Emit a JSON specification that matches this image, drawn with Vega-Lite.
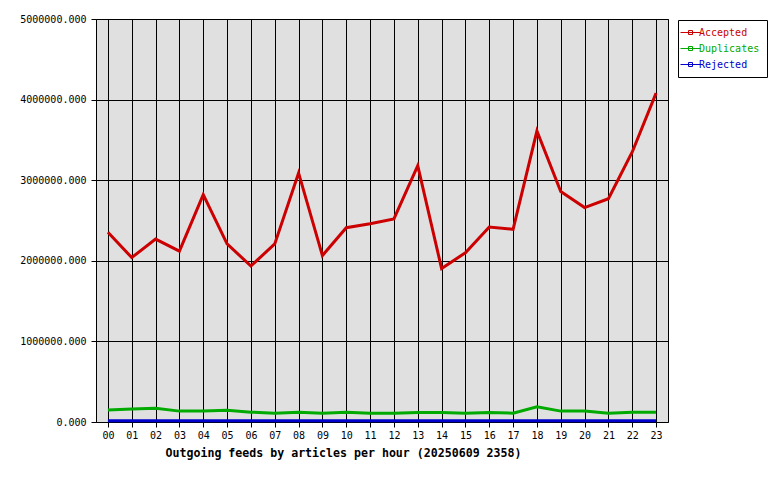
{
  "$schema": "https://vega.github.io/schema/vega-lite/v6.json",
  "description": "Outgoing feeds by articles per hour",
  "autosize": {"type": "none"},
  "padding": {"top": 19, "left": 96, "right": 112, "bottom": 58},
  "width": 572,
  "height": 403,
  "background": "#ffffff",
  "data": {
    "values": [
      {"hour": "00", "series": "Accepted", "value": 2354000},
      {"hour": "01", "series": "Accepted", "value": 2040000},
      {"hour": "02", "series": "Accepted", "value": 2270000},
      {"hour": "03", "series": "Accepted", "value": 2120000},
      {"hour": "04", "series": "Accepted", "value": 2820000},
      {"hour": "05", "series": "Accepted", "value": 2210000},
      {"hour": "06", "series": "Accepted", "value": 1935000},
      {"hour": "07", "series": "Accepted", "value": 2210000},
      {"hour": "08", "series": "Accepted", "value": 3090000},
      {"hour": "09", "series": "Accepted", "value": 2065000},
      {"hour": "10", "series": "Accepted", "value": 2410000},
      {"hour": "11", "series": "Accepted", "value": 2460000},
      {"hour": "12", "series": "Accepted", "value": 2520000},
      {"hour": "13", "series": "Accepted", "value": 3180000},
      {"hour": "14", "series": "Accepted", "value": 1905000},
      {"hour": "15", "series": "Accepted", "value": 2100000},
      {"hour": "16", "series": "Accepted", "value": 2420000},
      {"hour": "17", "series": "Accepted", "value": 2390000},
      {"hour": "18", "series": "Accepted", "value": 3610000},
      {"hour": "19", "series": "Accepted", "value": 2860000},
      {"hour": "20", "series": "Accepted", "value": 2660000},
      {"hour": "21", "series": "Accepted", "value": 2770000},
      {"hour": "22", "series": "Accepted", "value": 3350000},
      {"hour": "23", "series": "Accepted", "value": 4080000},
      {"hour": "00", "series": "Duplicates", "value": 148000},
      {"hour": "01", "series": "Duplicates", "value": 160000},
      {"hour": "02", "series": "Duplicates", "value": 170000},
      {"hour": "03", "series": "Duplicates", "value": 135000},
      {"hour": "04", "series": "Duplicates", "value": 135000},
      {"hour": "05", "series": "Duplicates", "value": 145000},
      {"hour": "06", "series": "Duplicates", "value": 122000},
      {"hour": "07", "series": "Duplicates", "value": 110000},
      {"hour": "08", "series": "Duplicates", "value": 120000},
      {"hour": "09", "series": "Duplicates", "value": 110000},
      {"hour": "10", "series": "Duplicates", "value": 120000},
      {"hour": "11", "series": "Duplicates", "value": 110000},
      {"hour": "12", "series": "Duplicates", "value": 110000},
      {"hour": "13", "series": "Duplicates", "value": 118000},
      {"hour": "14", "series": "Duplicates", "value": 118000},
      {"hour": "15", "series": "Duplicates", "value": 110000},
      {"hour": "16", "series": "Duplicates", "value": 118000},
      {"hour": "17", "series": "Duplicates", "value": 110000},
      {"hour": "18", "series": "Duplicates", "value": 190000},
      {"hour": "19", "series": "Duplicates", "value": 135000},
      {"hour": "20", "series": "Duplicates", "value": 135000},
      {"hour": "21", "series": "Duplicates", "value": 110000},
      {"hour": "22", "series": "Duplicates", "value": 120000},
      {"hour": "23", "series": "Duplicates", "value": 120000},
      {"hour": "00", "series": "Rejected", "value": 16000},
      {"hour": "01", "series": "Rejected", "value": 16000},
      {"hour": "02", "series": "Rejected", "value": 17000},
      {"hour": "03", "series": "Rejected", "value": 15000},
      {"hour": "04", "series": "Rejected", "value": 15000},
      {"hour": "05", "series": "Rejected", "value": 15000},
      {"hour": "06", "series": "Rejected", "value": 14000},
      {"hour": "07", "series": "Rejected", "value": 14000},
      {"hour": "08", "series": "Rejected", "value": 15000},
      {"hour": "09", "series": "Rejected", "value": 14000},
      {"hour": "10", "series": "Rejected", "value": 15000},
      {"hour": "11", "series": "Rejected", "value": 14000},
      {"hour": "12", "series": "Rejected", "value": 14000},
      {"hour": "13", "series": "Rejected", "value": 15000},
      {"hour": "14", "series": "Rejected", "value": 14000},
      {"hour": "15", "series": "Rejected", "value": 14000},
      {"hour": "16", "series": "Rejected", "value": 15000},
      {"hour": "17", "series": "Rejected", "value": 14000},
      {"hour": "18", "series": "Rejected", "value": 17000},
      {"hour": "19", "series": "Rejected", "value": 15000},
      {"hour": "20", "series": "Rejected", "value": 15000},
      {"hour": "21", "series": "Rejected", "value": 14000},
      {"hour": "22", "series": "Rejected", "value": 15000},
      {"hour": "23", "series": "Rejected", "value": 15000}
    ]
  },
  "mark": {"type": "line", "strokeWidth": 3, "interpolate": "linear"},
  "encoding": {
    "x": {
      "field": "hour",
      "type": "ordinal",
      "sort": null,
      "scale": {"type": "point", "padding": 0.5},
      "axis": {
        "title": "Outgoing feeds by articles per hour (20250609 2358)",
        "titleX": 247,
        "titleY": 34,
        "titleBaseline": "alphabetic",
        "titleAlign": "center",
        "titleFontWeight": "bold",
        "titleFontSize": 11.6,
        "labelAngle": 0,
        "labelPadding": 3,
        "tickSize": 5,
        "grid": true,
        "domain": false
      }
    },
    "y": {
      "field": "value",
      "type": "quantitative",
      "scale": {"domain": [0, 5000000], "nice": false},
      "axis": {
        "title": null,
        "values": [0, 1000000, 2000000, 3000000, 4000000, 5000000],
        "format": ".3f",
        "tickSize": 5,
        "labelPadding": 5,
        "grid": true,
        "domain": false
      }
    },
    "color": {
      "field": "series",
      "type": "nominal",
      "scale": {
        "domain": ["Accepted", "Duplicates", "Rejected"],
        "range": ["#cc0000", "#00aa00", "#0000cc"]
      },
      "legend": {
        "title": null,
        "orient": "none",
        "legendX": 582,
        "legendY": 1,
        "padding": 7,
        "strokeColor": "#000000",
        "fillColor": "#ffffff",
        "cornerRadius": 0,
        "symbolType": "M-2,0H2M-0.4,-0.4V0.4H0.4V-0.4Z",
        "symbolSize": 100,
        "symbolStrokeWidth": 1,
        "labelOffset": 3,
        "rowPadding": 5,
        "encode": {
          "symbols": {"update": {"stroke": {"signal": "scale('color', datum.value)"}, "fill": {"value": "transparent"}}},
          "labels": {"update": {"fill": {"signal": "scale('color', datum.value)"}}}
        }
      }
    }
  },
  "config": {
    "font": "DejaVu Sans Mono",
    "view": {"fill": "#e0e0e0", "stroke": "#000000", "strokeWidth": 1},
    "axis": {
      "labelFont": "DejaVu Sans Mono",
      "titleFont": "DejaVu Sans Mono",
      "labelFontSize": 10,
      "labelColor": "#000000",
      "titleColor": "#000000",
      "tickColor": "#000000",
      "gridColor": "#000000",
      "gridOpacity": 1,
      "gridWidth": 1,
      "tickWidth": 1
    },
    "legend": {
      "labelFont": "DejaVu Sans Mono",
      "labelFontSize": 10
    }
  }
}
